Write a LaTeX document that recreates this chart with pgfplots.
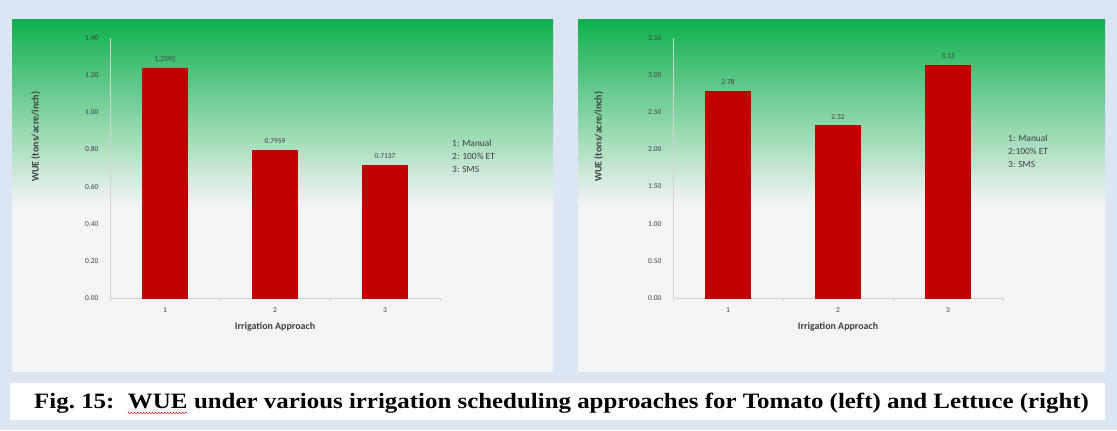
\documentclass[border=0pt]{standalone}
\usepackage{fontspec}
\setmainfont{Carlito}
\newfontfamily\capfont{Liberation Serif}
\usepackage{pgfplots}
\pgfplotsset{compat=1.18}
\usetikzlibrary{decorations.pathmorphing}

\definecolor{bgblue}{HTML}{DCE6F2}
\definecolor{xlgreen}{HTML}{10B04F}
\definecolor{panelgray}{HTML}{F4F4F4}
\definecolor{barred}{HTML}{C00000}
\definecolor{txt}{HTML}{404040}

\pgfplotsset{
  wue/.style={
    scale only axis, width=330bp, height=260bp,
    anchor=south west,
    xmin=0.5, xmax=3.5, ymin=0,
    xtick={1,2,3},
    axis lines=left, axis line style={-, draw=gray!35},
    major tick length=0pt,
    extra x ticks={0.5,1.5,2.5,3.5}, extra x tick labels={},
    extra x tick style={major tick length=3bp, tick align=outside, tick style={draw=gray!35}},
    ybar, bar width=45bp,
    /pgf/number format/assume math mode=true,
    yticklabel style={xshift=-8bp, /pgf/number format/.cd, fixed, fixed zerofill, precision=2},
    xticklabel style={yshift=-6bp},
    tick label style={font=\fontsize{7.5}{9}\selectfont, text=txt},
    label style={font=\bfseries\fontsize{10}{12}\selectfont, text=txt},
    ylabel={WUE (tons/acre/inch)},
    xlabel={Irrigation Approach},
    ylabel style={at={(axis description cs:-0.225,0.62)}, anchor=center},
    xlabel style={at={(axis description cs:0.5,0)}, anchor=center, yshift=-29bp},
    every node near coord/.append style={font=\fontsize{7.5}{9}\selectfont, text=txt, yshift=3bp},
    clip=false,
  },
}

\begin{document}
\begin{tikzpicture}[x=1bp, y=1bp]
  % page background and panels
  \fill[bgblue] (0,0) rectangle (1117,430);
  \useasboundingbox (0,0) rectangle (1117,430);
  \fill[panelgray] (12,58) rectangle (553,410);
  \shade[top color=xlgreen, bottom color=panelgray] (12,225) rectangle (553,410);
  \fill[panelgray] (578,58) rectangle (1105,410);
  \shade[top color=xlgreen, bottom color=panelgray] (578,225) rectangle (1105,410);
  \fill[white] (10,10) rectangle (1105,47);

  % Tomato
  \begin{axis}[wue, at={(110bp,132bp)},
      ymax=1.4, ytick={0,0.2,...,1.4},
      nodes near coords={\pgfmathprintnumber[fixed,fixed zerofill,precision=4]{\pgfplotspointmeta}}]
    \addplot[fill=barred, draw=barred] coordinates {(1,1.2395) (2,0.7959) (3,0.7137)};
  \end{axis}

  % Lettuce
  \begin{axis}[wue, at={(673bp,132bp)},
      ymax=3.5, ytick={0,0.5,...,3.5},
      nodes near coords={\pgfmathprintnumber[fixed,fixed zerofill,precision=2]{\pgfplotspointmeta}}]
    \addplot[fill=barred, draw=barred] coordinates {(1,2.78) (2,2.32) (3,3.13)};
  \end{axis}

  % text boxes
  \node[anchor=north west, align=left, inner sep=0, text=txt,
        font=\fontsize{9.5}{13}\selectfont] at (452,290) {1: Manual\\2: 100\% ET\\3: SMS};
  \node[anchor=north west, align=left, inner sep=0, text=txt,
        font=\fontsize{9.5}{13}\selectfont] at (1008,295) {1: Manual\\2:100\% ET\\3: SMS};

  % caption
  \begin{scope}[every node/.style={anchor=base west, inner sep=0, xscale=1.136, transform shape,
        font=\capfont\bfseries\fontsize{22}{26}\selectfont}]
    \node (c1) at (34,22) {Fig.\ 15:};
    \node (c2) at ([xshift=13bp]c1.base east) {WUE};
    \node (c3) at (c2.base east) {\ under various irrigation scheduling approaches for Tomato (left) and Lettuce (right)};
  \end{scope}
  \draw[red!80!black, decorate, decoration={snake, amplitude=0.9bp, segment length=3bp}]
    ([yshift=-5bp]c2.base west) -- ([yshift=-5bp]c2.base east);
\end{tikzpicture}
\end{document}
